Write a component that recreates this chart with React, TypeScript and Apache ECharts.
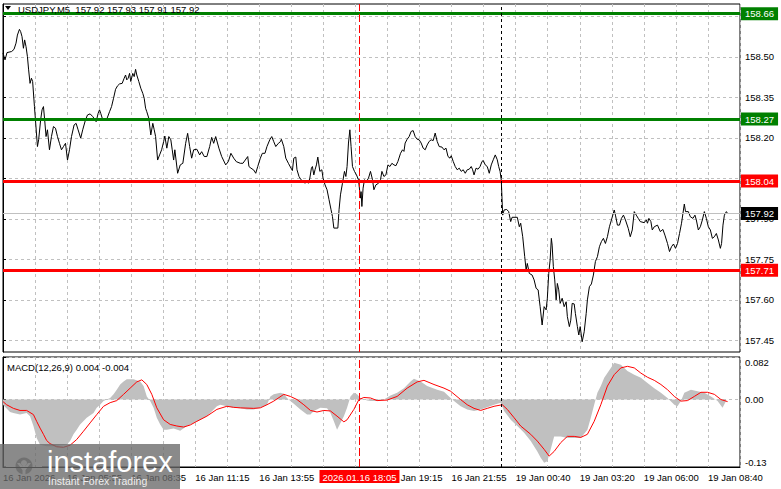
import React, { useEffect, useRef } from 'react';
import * as echarts from 'echarts';

const FONT = '"Liberation Sans", Arial, sans-serif';

// x positions are bar indices (M5 bars), y values are prices
const timeLabels = ['16 Jan 2026', '16 Jan 05:55', '16 Jan 08:35', '16 Jan 11:15', '16 Jan 13:55', '16 Jan 19:15', '16 Jan 21:55', '19 Jan 00:40', '19 Jan 03:20', '19 Jan 06:00', '19 Jan 08:40'];
const timeLabelBars = [0, 32, 64, 96, 128, 192, 224, 256, 288, 320, 352];
const priceTicks = [157.45, 157.6, 157.75, 157.9, 158.05, 158.2, 158.35, 158.5, 158.65];
const priceLabels = [157.45, 157.6, 157.75, 157.9, 158.2, 158.35, 158.5, 158.65];
const macdTicks = [-0.13, 0, 0.082];

const supportLevels = [158.04, 157.71];
const resistanceLevels = [158.66, 158.27];
const bidPrice = 157.92;
const markerBar = 178; // 2026.01.16 18:05
const dayBreakBar = 249; // 19 Jan 00:00

const priceLine: [number, number][] = [
  [0, 158.514], [1, 158.489], [2, 158.516], [4.3, 158.52], [5.5, 158.528], [6.5, 158.551], [7.2, 158.581], [8.2, 158.602], [8.8, 158.594], [9.5, 158.575], [10.2, 158.532], [10.8, 158.563], [11.5, 158.538], [12.2, 158.501], [12.8, 158.452], [13.5, 158.402], [14.2, 158.421], [14.8, 158.409], [15.7, 158.316], [16.2, 158.267], [17.2, 158.168], [17.8, 158.193], [18.8, 158.267], [19.5, 158.304], [20.2, 158.316], [20.8, 158.267], [21.5, 158.205], [22.2, 158.23], [23.2, 158.156], [24.2, 158.205], [25.2, 158.242], [26.2, 158.236], [27.2, 158.205], [28.2, 158.18], [29.2, 158.156], [30.2, 158.168], [31.2, 158.18], [32.2, 158.118], [33.2, 158.156], [34.2, 158.205], [35.5, 158.248], [36.5, 158.254], [37.5, 158.23], [38.8, 158.199], [39.8, 158.23], [41.2, 158.267], [42.2, 158.285], [43.5, 158.289], [44.8, 158.279], [46, 158.267], [46.5, 158.26], [47.5, 158.291], [48.2, 158.304], [48.8, 158.291], [49.8, 158.267], [51.8, 158.269], [53.2, 158.297], [54.2, 158.316], [55.2, 158.347], [56.2, 158.38], [57.2, 158.393], [58.2, 158.4], [59.5, 158.402], [60.5, 158.421], [61.2, 158.433], [61.8, 158.415], [62.5, 158.421], [63.2, 158.439], [63.8, 158.409], [64.8, 158.439], [65.5, 158.427], [66.2, 158.454], [66.8, 158.433], [67.8, 158.409], [68.8, 158.384], [69.8, 158.365], [70.5, 158.347], [71.2, 158.31], [71.8, 158.297], [72.8, 158.273], [73.8, 158.211], [74.8, 158.254], [75.5, 158.23], [76.2, 158.205], [77.2, 158.118], [78.2, 158.137], [79.2, 158.156], [80.2, 158.186], [80.8, 158.207], [81.8, 158.162], [82.8, 158.205], [83.8, 158.193], [84.5, 158.156], [85.2, 158.118], [85.8, 158.156], [87.2, 158.069], [88.5, 158.1], [89.8, 158.106], [91.2, 158.18], [92.2, 158.217], [93.2, 158.168], [94.2, 158.125], [95.2, 158.156], [96.8, 158.158], [98.2, 158.137], [99.2, 158.149], [100.5, 158.131], [101.8, 158.131], [103.2, 158.168], [104.2, 158.202], [105.2, 158.18], [106.2, 158.205], [107.8, 158.162], [109.2, 158.131], [111.2, 158.1], [112.5, 158.112], [113.8, 158.143], [115.2, 158.125], [116.5, 158.112], [118.5, 158.106], [119.8, 158.106], [122.2, 158.131], [122.8, 158.094], [123.8, 158.088], [125.2, 158.081], [126.2, 158.069], [127.2, 158.094], [128.5, 158.125], [129.5, 158.143], [130.8, 158.143], [131.8, 158.168], [133.2, 158.193], [134.2, 158.205], [135.2, 158.186], [136.2, 158.168], [137.5, 158.18], [138.5, 158.186],
  [139, 158.195], [140.2, 158.168], [141.2, 158.125], [142.5, 158.106], [143.8, 158.088], [144.5, 158.079], [145.2, 158.125], [146.2, 158.129], [146.8, 158.082], [147.8, 158.057], [148.8, 158.045], [149.8, 158.039], [150.8, 158.032], [151.8, 158.039], [152.5, 158.032], [153.2, 158.051], [154, 158.088], [154.5, 158.094], [155.2, 158.063], [155.8, 158.082], [156.5, 158.1], [157.2, 158.129], [158.2, 158.076], [159.2, 158.082], [159.8, 158.051], [160.8, 158.026], [161.8, 158.008], [162.8, 157.971], [163.8, 157.934], [164.5, 157.909], [165.2, 157.866], [167.2, 157.866], [167.8, 157.934], [168.5, 157.989], [169.5, 158.032], [170.5, 158.076], [171.2, 158.057], [171.8, 158.094], [172.5, 158.181], [173.2, 158.23], [173.8, 158.168], [174.5, 158.094], [175.5, 158.076], [176.5, 158.063], [177.5, 158.045], [178.5, 157.977], [178.8, 158.001], [179.2, 157.946], [179.8, 158.014], [180.5, 158.045], [181.5, 158.039], [182.5, 158.051], [183.5, 158.076], [184.5, 158.045], [185.2, 158.008], [186.2, 158.026], [187.5, 158.032], [188.5, 158.045], [189.2, 158.076], [190.2, 158.057], [191.2, 158.063], [192.2, 158.1], [193.2, 158.094], [194.2, 158.106], [195.2, 158.1], [196.2, 158.097], [197.2, 158.113], [198.5, 158.143], [199.5, 158.156], [200.2, 158.15], [200.8, 158.181], [201.8, 158.195], [202.8, 158.205], [203.8, 158.224], [204.8, 158.227], [205.8, 158.205], [206.8, 158.195], [207.8, 158.193], [208.8, 158.181], [209.8, 158.162], [210.8, 158.156], [211.8, 158.174], [212.8, 158.187], [213.8, 158.193], [214.8, 158.19], [215.8, 158.218], [216.8, 158.187], [217.8, 158.168], [219.2, 158.166], [220.2, 158.156], [221.2, 158.162], [222.2, 158.131], [223.2, 158.125], [223.8, 158.134], [224.8, 158.113], [225.8, 158.094], [226.8, 158.082], [227.8, 158.088], [228.8, 158.076], [229.8, 158.082], [230.8, 158.069], [231.8, 158.082], [232.8, 158.084], [233.8, 158.094], [234.5, 158.082], [235.2, 158.063], [236.2, 158.088], [237.2, 158.084], [238.2, 158.094], [239.2, 158.113], [239.8, 158.116], [240.8, 158.1], [241.8, 158.094], [242.8, 158.069], [243.8, 158.1], [244.8, 158.119], [245.8, 158.137], [246.8, 158.119], [247.5, 158.094], [248.2, 158.076], [248.8, 158.044],
  [249.5, 157.914], [250.2, 157.933], [251.5, 157.935], [252.5, 157.927], [253.5, 157.89], [254.2, 157.906], [256.8, 157.906], [257.8, 157.871], [258.5, 157.884], [259.5, 157.834], [260.5, 157.76], [261.2, 157.711], [261.8, 157.735], [262.8, 157.698], [264.2, 157.692], [265.2, 157.674], [266.2, 157.643], [267.2, 157.637], [268.2, 157.575], [269.2, 157.507], [270.2, 157.575], [271.2, 157.563], [271.8, 157.606], [272.5, 157.698], [273.2, 157.748], [273.8, 157.828], [274.2, 157.803], [274.8, 157.723], [275.5, 157.674], [276.2, 157.6], [276.8, 157.661], [277.5, 157.637], [278.2, 157.587], [279.2, 157.606], [280.2, 157.575], [281.2, 157.593], [281.8, 157.538], [282.8, 157.501], [283.5, 157.525], [284.2, 157.587], [285.2, 157.585], [285.8, 157.55], [286.8, 157.501], [287.5, 157.47], [288.2, 157.501], [289.2, 157.445], [290.2, 157.482], [291.2, 157.55], [291.8, 157.6], [292.8, 157.649], [293.8, 157.659], [294.8, 157.692], [295.8, 157.742], [296.8, 157.76], [297.8, 157.797], [298.8, 157.816], [299.8, 157.828], [300.8, 157.809], [301.8, 157.834], [302.8, 157.871], [303.8, 157.896], [305.2, 157.933], [305.8, 157.914], [306.8, 157.877], [307.8, 157.877], [308.8, 157.902], [309.8, 157.914], [310.8, 157.896], [312.2, 157.865], [313.2, 157.834], [314.2, 157.859], [315.2, 157.927], [316.2, 157.914], [317.2, 157.902], [318.2, 157.89], [320.2, 157.886], [321.2, 157.896], [321.8, 157.884], [322.5, 157.902], [323.5, 157.89], [324.2, 157.859], [325.2, 157.871], [326.8, 157.877], [328.2, 157.853], [329.5, 157.861], [330.5, 157.84], [331.8, 157.809], [332.8, 157.779], [333.8, 157.797], [334.8, 157.807], [335.8, 157.791], [336.8, 157.809], [337.8, 157.846], [338.8, 157.884], [340.2, 157.955], [340.8, 157.927], [342.2, 157.927], [343.2, 157.908], [344.5, 157.902], [345.5, 157.914], [346.2, 157.896], [347.2, 157.859], [348.2, 157.871], [349.2, 157.896], [350.2, 157.927], [351.2, 157.902], [352.2, 157.871], [353.2, 157.859], [354.2, 157.828], [355.2, 157.834], [356.2, 157.846], [357.2, 157.822], [358.2, 157.791], [358.8, 157.809], [359.5, 157.877], [360.2, 157.914], [361.2, 157.927], [361.8, 157.92],
];

const macdHist: [number, number][] = [
  [0, -0.01], [3.5, -0.024], [5.2, -0.026], [8.5, -0.029], [11.8, -0.026], [13.5, -0.032], [15.2, -0.051], [16.8, -0.074], [18.5, -0.087], [21.8, -0.09], [25.2, -0.09], [28.5, -0.088], [31.8, -0.087], [33.5, -0.08], [35.2, -0.067], [36.8, -0.058], [38.5, -0.048], [41.8, -0.035], [45.2, -0.026], [46.8, -0.016], [48.5, -0.01], [50.2, -0.003], [51.8, 0], [53.5, 0.003], [55.2, 0.01], [56.8, 0.019], [58.5, 0.029], [60.2, 0.035], [61.8, 0.039], [65.2, 0.039], [68.5, 0.035], [70.2, 0.026], [71.8, 0.006], [73.5, -0.003], [75.2, -0.016], [76.8, -0.035], [78.5, -0.048], [80.2, -0.058], [81.8, -0.058], [85.2, -0.056], [88.5, -0.06], [91.8, -0.051], [95.2, -0.045], [98.5, -0.039], [101.8, -0.032], [105.2, -0.019], [106.8, -0.013], [108.5, -0.01], [111.8, -0.013], [115.2, -0.016], [118.5, -0.017], [121.8, -0.019], [125.2, -0.019], [128.5, -0.016], [131.8, -0.01], [133.5, 0.006], [135.2, 0.01], [138.5, 0.013], [140.2, 0.011], [141.8, 0.003], [143.5, -0.003], [145.2, -0.008], [148.5, -0.019], [151.8, -0.029], [153.5, -0.029], [155.2, -0.022], [158.5, -0.016], [161.8, -0.017], [163.5, -0.026], [165.2, -0.042], [166.8, -0.058], [168.5, -0.045], [170.2, -0.032], [171.8, -0.016], [173.5, 0.006], [175.2, 0.013], [176.8, 0.01], [178.5, 0.003], [181.8, -0.002],
  [183.5, -0.003], [186.8, -0.003], [190.2, 0], [193.5, 0.008], [196.8, 0.013], [200.2, 0.022], [203.5, 0.035], [205.2, 0.04], [208.5, 0.035], [211.8, 0.026], [216.8, 0.019], [220.2, 0.015], [223.5, 0.003], [225.2, -0.003], [228.5, -0.013], [231.8, -0.019], [235.2, -0.022], [238.5, -0.019], [241.8, -0.015], [245.2, -0.01], [248.5, -0.006], [250.2, -0.022], [253.5, -0.039], [256.8, -0.051], [260.2, -0.064], [263.5, -0.08], [266.8, -0.1], [268.5, -0.112], [270.2, -0.122], [271.8, -0.119], [273.5, -0.096], [275.2, -0.071], [278.5, -0.071], [281.8, -0.074], [285.2, -0.074], [288.5, -0.074], [291.8, -0.058], [293.5, -0.035], [295.2, -0.01], [296.8, 0.013], [298.5, 0.026], [300.2, 0.042], [303.5, 0.061], [305.2, 0.071], [308.5, 0.067], [311.8, 0.055], [315.2, 0.048], [318.5, 0.042], [321.8, 0.032], [325.2, 0.022], [328.5, 0.013], [331.8, 0.003], [335.2, -0.01], [336.8, -0.013], [338.5, -0.003], [340.2, 0.013], [343.5, 0.019], [346.8, 0.016], [350.2, 0.013], [353.5, 0.006], [356.8, -0.003], [359.3, -0.016], [361, -0.003],
];

const macdSignal: [number, number][] = [
  [0, -0.004], [1.8, -0.01], [5.2, -0.017], [8.5, -0.021], [11.8, -0.021], [15.2, -0.029], [16.8, -0.042], [18.5, -0.055], [20.2, -0.067], [21.8, -0.079], [23.5, -0.085], [26.8, -0.091], [30.2, -0.092], [33.5, -0.088], [36.8, -0.077], [40.2, -0.061], [43.5, -0.045], [46.8, -0.029], [50.2, -0.013], [53.5, -0.006], [56.8, -0.002], [60.2, 0.01], [63.5, 0.022], [66.8, 0.034], [69.3, 0.038], [71.8, 0.029], [74.3, 0.01], [76.8, -0.016], [80.2, -0.039], [83.5, -0.048], [86.8, -0.051], [90.2, -0.053], [93.5, -0.049], [96.8, -0.042], [101.8, -0.032], [106.8, -0.019], [111.8, -0.013], [115.2, -0.015], [118.5, -0.016], [125.2, -0.017], [128.5, -0.016], [131.8, -0.01], [135.2, -0.003], [140.2, 0.01], [143.5, 0.006], [146.8, 0], [150.2, -0.01], [153.5, -0.021], [156.8, -0.024], [160.2, -0.021], [163.5, -0.022], [166.8, -0.032], [170.2, -0.043], [171.8, -0.039], [175.2, -0.019], [177.7, 0], [180.2, 0.004], [183.5, 0.003],
  [186.8, -0.002], [191.8, -0.001], [196.8, 0.006], [201.8, 0.022], [206.8, 0.034], [210.2, 0.037], [215.2, 0.029], [220.2, 0.022], [223.5, 0.016], [228.5, 0], [231.8, -0.01], [235.2, -0.017], [238.5, -0.021], [241.8, -0.017], [245.2, -0.013], [249.3, -0.01], [251.8, -0.019], [255.2, -0.035], [258.5, -0.051], [263.5, -0.067], [266.8, -0.08], [270.2, -0.096], [272.7, -0.109], [275.2, -0.1], [278.5, -0.083], [281.8, -0.071], [285.2, -0.071], [288.5, -0.073], [291.8, -0.067], [295.2, -0.042], [298.5, -0.01], [301.8, 0.026], [305.2, 0.048], [308.5, 0.061], [311.8, 0.064], [315.2, 0.061], [318.5, 0.051], [321.8, 0.043], [325.2, 0.037], [328.5, 0.029], [331.8, 0.019], [335.2, 0.006], [338.5, -0.003], [341.8, -0.002], [345.2, 0.006], [348.5, 0.014], [351.8, 0.014], [355.2, 0.01], [358.5, 0], [361.8, -0.004],
];

const GRID_DASH = { color: '#c0c0c0', type: [3, 3] as number[], width: 1 };

function levelLine(value: number, color: string, textColor: string, width: number) {
  return {
    yAxis: value,
    lineStyle: { color, width, type: 'solid' },
    label: {
      show: true,
      position: 'end',
      distance: 1,
      formatter: () => value.toFixed(2),
      color: textColor,
      backgroundColor: color === '#c0c0c0' ? '#000' : color,
      padding: [2, 4, 1, 4],
      fontSize: 9.5,
      fontFamily: FONT,
    },
  };
}

export default function App() {
  const ref = useRef<HTMLDivElement>(null);
  useEffect(() => {
    const chart = echarts.init(ref.current!, null, { renderer: 'svg' });
    const teeth = Array.from({ length: 8 }, (_, k) => ({
      type: 'rect',
      rotation: (k * Math.PI) / 4,
      shape: { x: -3.5, y: -18, width: 7, height: 8 },
      style: { fill: '#fff' },
    }));
    const option: any = {
      animation: false,
      backgroundColor: '#fff',
      textStyle: { fontFamily: FONT },
      grid: [
        { left: 3, top: 4, width: 737, height: 348, show: true, borderColor: '#000', borderWidth: 1, backgroundColor: 'transparent' },
        { left: 3, top: 357, width: 737, height: 110, show: true, borderColor: '#000', borderWidth: 1, backgroundColor: 'transparent' },
      ],
      xAxis: [
        {
          gridIndex: 0, type: 'value', min: 0, max: 368, interval: 16,
          axisLine: { show: false }, axisTick: { show: false }, axisLabel: { show: false },
          splitLine: { show: true, lineStyle: GRID_DASH },
        },
        {
          gridIndex: 1, type: 'value', min: 0, max: 368, interval: 16,
          axisLine: { show: true, onZero: false, lineStyle: { color: '#000', width: 1 } },
          axisTick: { show: false },
          axisLabel: {
            show: true,
            customValues: timeLabelBars,
            formatter: (v: number) => timeLabels[timeLabelBars.indexOf(Math.round(v))] ?? '',
            align: 'left', margin: 5, color: '#000', fontSize: 9.5, fontFamily: FONT,
          },
          splitLine: { show: true, lineStyle: GRID_DASH },
        },
      ],
      yAxis: [
        {
          gridIndex: 0, type: 'value', position: 'right', min: 157.407, max: 158.696,
          axisLine: { show: true, lineStyle: { color: '#000', width: 1 } },
          axisTick: { show: true, customValues: priceTicks, length: 3, lineStyle: { color: '#000' } },
          axisLabel: {
            show: true, customValues: priceLabels, formatter: (v: number) => v.toFixed(2),
            margin: 5, color: '#000', fontSize: 9.5, fontFamily: FONT,
          },
          splitLine: { show: true, lineStyle: GRID_DASH },
        },
        {
          gridIndex: 1, type: 'value', position: 'right', min: -0.13, max: 0.082,
          axisLine: { show: true, lineStyle: { color: '#000', width: 1 } },
          axisTick: { show: true, customValues: macdTicks, length: 3, lineStyle: { color: '#000' } },
          axisLabel: {
            show: true, customValues: macdTicks,
            formatter: (v: number) => (Math.abs(v) < 1e-9 ? '0.00' : String(v)),
            verticalAlignMinLabel: 'bottom', verticalAlignMaxLabel: 'top',
            margin: 5, color: '#000', fontSize: 9.5, fontFamily: FONT,
          },
          splitLine: { show: true, lineStyle: GRID_DASH },
        },
      ],
      series: [
        {
          name: 'USDJPY', type: 'line', xAxisIndex: 0, yAxisIndex: 0, data: priceLine,
          showSymbol: false, symbol: 'none', lineStyle: { color: '#000', width: 1 }, z: 3,
          markLine: {
            silent: true, symbol: ['none', 'none'], animation: false,
            data: [
              levelLine(resistanceLevels[0], '#008000', '#fff', 3),
              levelLine(resistanceLevels[1], '#008000', '#fff', 3),
              levelLine(supportLevels[0], '#ff0000', '#fff', 3),
              levelLine(supportLevels[1], '#ff0000', '#fff', 3),
              levelLine(bidPrice, '#c0c0c0', '#fff', 1),
              { xAxis: markerBar, lineStyle: { color: '#ff0000', width: 1, type: [8, 3] }, label: { show: false } },
              { xAxis: dayBreakBar, lineStyle: { color: '#000', width: 1, type: [3, 3] }, label: { show: false } },
            ],
          },
        },
        {
          name: 'MACD', type: 'line', xAxisIndex: 1, yAxisIndex: 1, data: macdHist,
          showSymbol: false, symbol: 'none', lineStyle: { width: 0, color: '#c0c0c0' },
          areaStyle: { color: '#c0c0c0', opacity: 1, origin: 0 }, z: 2,
        },
        {
          name: 'Signal', type: 'line', xAxisIndex: 1, yAxisIndex: 1, data: macdSignal,
          showSymbol: false, symbol: 'none', lineStyle: { color: '#ff0000', width: 1 }, z: 3,
          markLine: {
            silent: true, symbol: ['none', 'none'], animation: false,
            data: [
              {
                xAxis: markerBar, lineStyle: { color: '#ff0000', width: 1, type: [8, 3] },
                label: {
                  show: true, position: 'start', distance: 3, formatter: '2026.01.16 18:05',
                  color: '#fff', backgroundColor: '#ff0000', padding: [2, 3, 1, 3], fontSize: 9.5, fontFamily: FONT,
                },
              },
              { xAxis: dayBreakBar, lineStyle: { color: '#000', width: 1, type: [3, 3] }, label: { show: false } },
            ],
          },
        },
      ],
      graphic: [
        { type: 'polygon', z: 100, shape: { points: [[5, 6], [11, 6], [8, 10]] }, style: { fill: '#000' } },
        {
          type: 'text', z: 100, x: 18, y: 9,
          style: { text: 'USDJPY,M5  157.92 157.93 157.91 157.92', fill: '#000', font: `9.5px ${FONT}`, textAlign: 'left', textVerticalAlign: 'middle' },
        },
        {
          type: 'text', z: 100, x: 7, y: 367,
          style: { text: 'MACD(12,26,9) 0.004 -0.004', fill: '#000', font: `9.5px ${FONT}`, textAlign: 'left', textVerticalAlign: 'middle' },
        },
        { type: 'rect', z: 200, shape: { x: 0, y: 444, width: 180, height: 45 }, style: { fill: 'rgba(105,105,105,0.78)' } },
        {
          type: 'group', z: 201, x: 24, y: 466,
          children: [
            ...teeth,
            { type: 'circle', shape: { cx: 0, cy: 0, r: 14 }, style: { fill: '#fff' } },
            { type: 'circle', shape: { cx: 0, cy: 0, r: 8.5 }, style: { fill: '#8a8a8a' } },
            { type: 'circle', shape: { cx: 0, cy: -3, r: 3 }, style: { fill: '#fff' } },
            { type: 'rect', shape: { x: -1.5, y: -1, width: 3, height: 10 }, style: { fill: '#fff' } },
            { type: 'polygon', shape: { points: [[-7, -3], [-4, -3], [0, 2], [4, -3], [7, -3], [1.5, 4], [-1.5, 4]] }, style: { fill: '#fff' } },
          ],
        },
        {
          type: 'text', z: 202, x: 47, y: 462,
          style: { text: 'instaforex', fill: '#fff', font: `29px ${FONT}`, textAlign: 'left', textVerticalAlign: 'middle' },
        },
        {
          type: 'text', z: 202, x: 48, y: 481,
          style: { text: 'Instant Forex Trading', fill: '#eeeeee', font: `10.5px ${FONT}`, textAlign: 'left', textVerticalAlign: 'middle' },
        },
      ],
    };
    chart.setOption(option);
    return () => chart.dispose();
  }, []);
  return <div ref={ref} style={{ position: 'absolute', left: 0, top: 0, width: 781, height: 489, background: '#fff' }} />;
}
